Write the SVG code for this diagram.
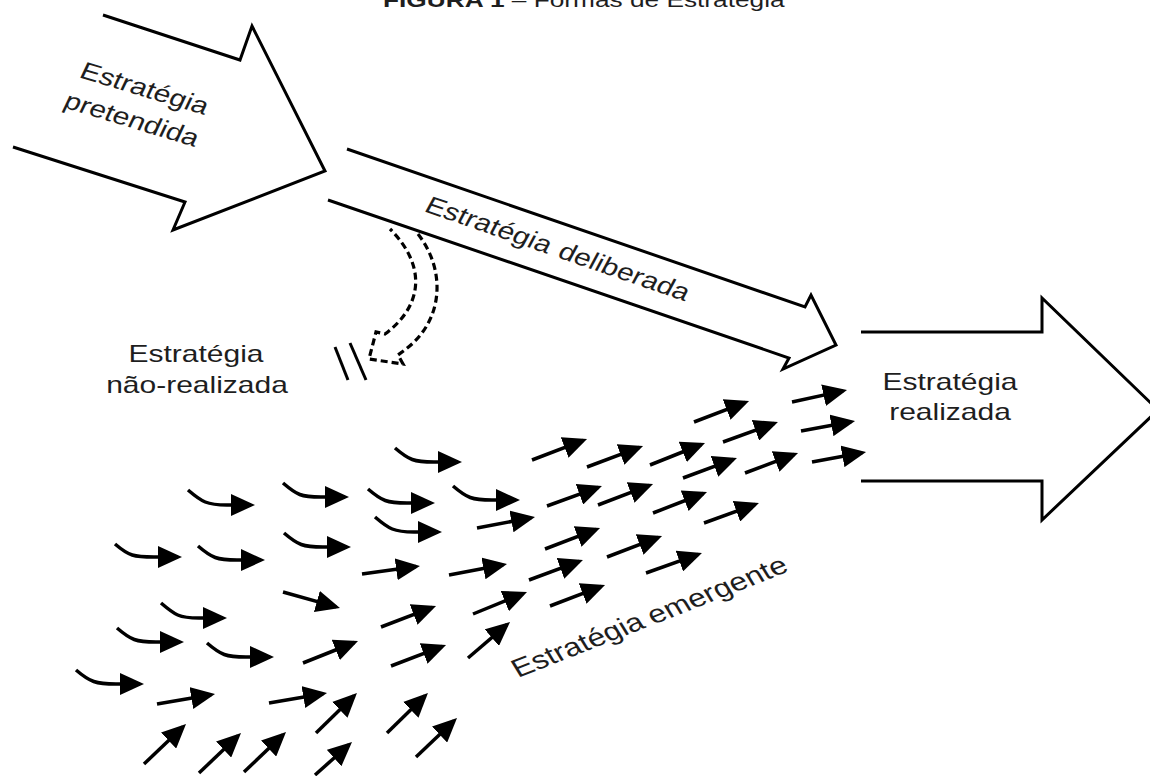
<svg xmlns="http://www.w3.org/2000/svg" width="1150" height="776" viewBox="0 0 1150 776">
<style>
.t{font-family:"Liberation Sans",Arial,Helvetica,sans-serif;font-size:24px;fill:#1e1e1e}
.big{fill:#fff;stroke:#000;stroke-width:3;stroke-linejoin:miter}
.a{fill:none;stroke:#000;stroke-width:3.5;marker-end:url(#ah)}
.dash{fill:none;stroke:#000;stroke-width:3.2;stroke-dasharray:7 4}
</style>
<defs>
<marker id="ah" markerUnits="userSpaceOnUse" markerWidth="24" markerHeight="22" viewBox="0 0 24 22" refX="20" refY="11" orient="auto">
<path d="M0,0 L24,11 L0,22 Z" fill="#000"/>
</marker>
</defs>
<rect width="1150" height="776" fill="#fff"/>

<g id="title">
<text class="t" style="font-size:21px" transform="translate(383,7) scale(1.25,1)"><tspan font-weight="bold">FIGURA 1</tspan> – Formas de Estratégia</text>
</g>

<g id="estrategia-pretendida">
<polyline class="big" points="103,15 240,60 252,26 325,171 173,230 185,202 13,147"/>
<text class="t" transform="translate(78,77) scale(1.25,1) rotate(20.6)">Estratégia</text>
<text class="t" transform="translate(62,107) scale(1.25,1) rotate(20.6)">pretendida</text>
</g>

<g id="estrategia-deliberada">
<polyline class="big" points="347,149 805,307 811,295 836,345 783,369 789,358 328,200"/>
<text class="t" transform="translate(423,211) scale(1.25,1) rotate(23.3)">Estratégia<tspan dx="8">deliberada</tspan></text>
</g>

<g id="estrategia-realizada">
<polyline class="big" points="861,332 1042,332 1042,298 1158,410 1042,520 1042,481 861,481"/>
<text class="t" text-anchor="middle" transform="translate(950,390) scale(1.25,1)">Estratégia</text>
<text class="t" text-anchor="middle" transform="translate(950,420) scale(1.25,1)">realizada</text>
</g>

<g id="estrategia-nao-realizada">
<path class="dash" d="M418,234 C446,270 444,320 406,349 L398,355 L403,364 L369,359 L376,332 L385,334 C424,305 426,265 390,229"/>
<line x1="335" y1="347" x2="348" y2="380" stroke="#000" stroke-width="3"/>
<line x1="350" y1="343" x2="366" y2="380" stroke="#000" stroke-width="3"/>
<text class="t" text-anchor="middle" transform="translate(196,362) scale(1.25,1)">Estratégia</text>
<text class="t" text-anchor="middle" transform="translate(197,393) scale(1.25,1)">não-realizada</text>
</g>

<g id="estrategia-emergente">
<text class="t" style="font-size:25.5px" transform="translate(518,678) scale(1.25,1) rotate(-26.2)">Estratégia<tspan dx="6">emergente</tspan></text>
</g>

<g id="connectors">
<!-- curved -->
<path class="a" d="M395,448 C409,460 414,462 434,462 L458,462"/>
<path class="a" d="M188,490 C202,502 207,505 227,505 L251,505"/>
<path class="a" d="M283,483 C297,495 301,497 321,497 L345,497"/>
<path class="a" d="M368,489 C382,501 387,503 407,503 L431,503"/>
<path class="a" d="M375,517 C389,529 394,532 414,532 L438,532"/>
<path class="a" d="M284,533 C298,545 303,547 323,547 L347,547"/>
<path class="a" d="M115,544 C129,556 134,557 154,557 L178,557"/>
<path class="a" d="M198,546 C212,558 217,560 237,560 L261,560"/>
<path class="a" d="M161,603 C175,615 179,618 199,618 L223,618"/>
<path class="a" d="M117,628 C131,640 136,642 156,642 L180,642"/>
<path class="a" d="M207,643 C221,655 226,657 246,657 L270,657"/>
<path class="a" d="M76,670 C90,682 96,684 116,684 L140,684"/>
<path class="a" d="M453,486 C467,498 472,500 492,500 L516,500"/>
<!-- straight -->
<path class="a" d="M362,574 L416,566.5"/>
<path class="a" d="M283,592 L336.1,606.9"/>
<path class="a" d="M381,627 L432.3,607.4"/>
<path class="a" d="M303,663 L354.3,642.5"/>
<path class="a" d="M391,666 L442.3,646.4"/>
<path class="a" d="M157,704 L211.1,694.7"/>
<path class="a" d="M269,703 L323.1,693.7"/>
<path class="a" d="M316,733 L354.1,695.8"/>
<path class="a" d="M387,733 L425.1,695.8"/>
<path class="a" d="M144,764 L183.1,726.8"/>
<path class="a" d="M199,773 L238.1,735.8"/>
<path class="a" d="M244,772 L283.1,734.8"/>
<path class="a" d="M315,775 L349,744.7"/>
<path class="a" d="M416,757 L454.1,720.8"/>
<path class="a" d="M468,658 L507,624.6"/>
<path class="a" d="M532,460 L583.3,440.4"/>
<path class="a" d="M587,467 L639.3,447.4"/>
<path class="a" d="M650,465 L701.3,444.5"/>
<path class="a" d="M694,422 L745.3,402.4"/>
<path class="a" d="M792,402 L843.1,390.9"/>
<path class="a" d="M723,442 L774.2,423.4"/>
<path class="a" d="M801,431 L851.1,421.7"/>
<path class="a" d="M683,478 L733.2,459.4"/>
<path class="a" d="M745,473 L794.3,454.4"/>
<path class="a" d="M812,462 L862.1,452.7"/>
<path class="a" d="M477,528 L531.1,517.7"/>
<path class="a" d="M547,506 L598.2,487.4"/>
<path class="a" d="M598,505 L649.3,485.4"/>
<path class="a" d="M653,513 L703.3,493.5"/>
<path class="a" d="M704,523 L755.2,504.4"/>
<path class="a" d="M545,549 L596.3,529.4"/>
<path class="a" d="M607,557 L658.3,537.4"/>
<path class="a" d="M646,573 L698.2,554.3"/>
<path class="a" d="M449,575 L503.1,564.7"/>
<path class="a" d="M529,580 L579.2,561.4"/>
<path class="a" d="M473,614 L523.3,593.5"/>
<path class="a" d="M550,606 L601.3,586.4"/>
</g>
</svg>
